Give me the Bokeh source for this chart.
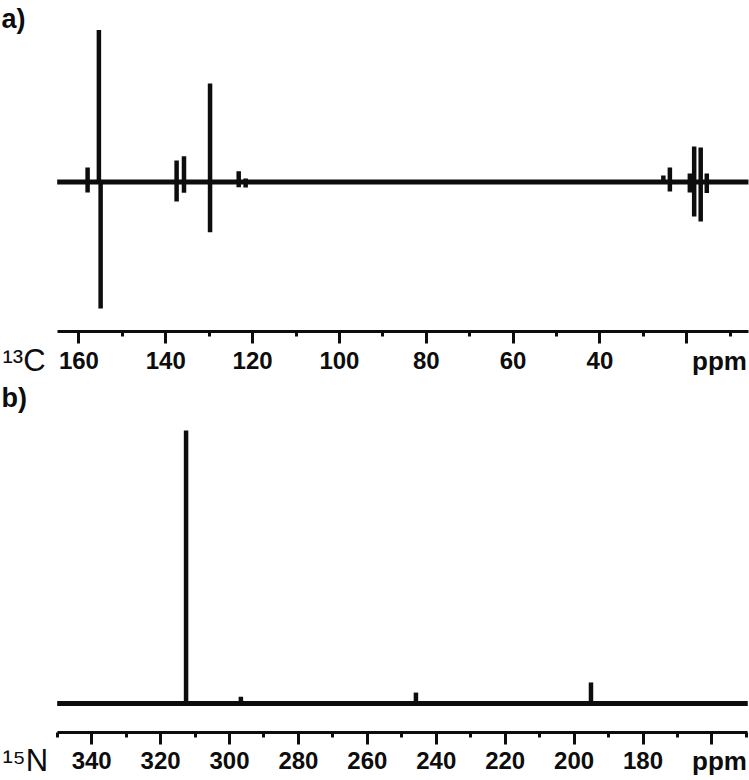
from bokeh.plotting import figure
from bokeh.layouts import column
from bokeh.models import Range1d, SingleIntervalTicker, Label
from bokeh.embed import file_html
from bokeh.resources import INLINE

# ---------------- data ----------------
# a) 13C spectrum (ppm axis reversed)
c_axis_bounds = [165.0, 5.8]
c_peak_ppm = [158.0, 155.4, 137.5, 135.8, 129.8, 123.2, 121.6, 25.4, 23.9, 19.3, 18.3, 16.8, 15.4]
c_peak_up = [9.5, 100.0, 14.1, 17.0, 64.8, 7.1, 2.3, 4.3, 9.5, 5.6, 23.4, 22.7, 5.6]
c_peak_down_ppm = [158.0, 155.0, 137.5, 135.8, 129.8, 123.2, 121.6, 25.4, 23.9, 19.3, 18.3, 16.8, 15.4]
c_peak_down = [-6.9, -83.2, -12.8, -7.1, -33.0, -3.4, -3.6, 0.0, -6.3, -6.9, -22.7, -26.0, -7.2]
c_hidden_tick = 20

# b) 15N spectrum
n_axis_bounds = [350.0, 149.6]
n_peak_ppm = [312.6, 296.7, 245.9, 195.1]
n_peak_up = [100.0, 2.5, 4.0, 7.7]
n_hidden_tick = 160

INK = "#0d0d0d"
FONT = "Liberation Sans"


def make_panel(x_rng, y_rng, height, axis_y, bounds, hidden_tick):
    p = figure(width=749, height=height, title=None,
               x_range=Range1d(*x_rng), y_range=Range1d(*y_rng),
               output_backend="svg", toolbar_location=None,
               y_axis_location=None,
               min_border_left=0, min_border_right=0,
               min_border_top=0, min_border_bottom=0)
    p.grid.visible = False
    p.outline_line_color = None
    p.background_fill_color = "white"
    p.border_fill_color = "white"
    ax = p.xaxis[0]
    ax.fixed_location = axis_y
    ax.bounds = tuple(bounds)
    ax.ticker = SingleIntervalTicker(interval=20, num_minor_ticks=2)
    ax.axis_line_width = 3
    ax.axis_line_color = INK
    ax.major_tick_line_width = 3
    ax.major_tick_line_color = INK
    ax.minor_tick_line_width = 3
    ax.minor_tick_line_color = INK
    ax.major_tick_out = 12
    ax.major_tick_in = 0
    ax.minor_tick_out = 5
    ax.minor_tick_in = 0
    ax.major_label_text_font = FONT
    ax.major_label_text_font_style = "bold"
    ax.major_label_text_font_size = "24px"
    ax.major_label_text_color = INK
    ax.major_label_standoff = 8
    ax.major_label_overrides = {hidden_tick: ""}
    return p


def add_texts(p, nucleus, tag, label_y, tag_y):
    p.add_layout(Label(x=2, y=label_y, x_units="screen", y_units="screen",
                       text=nucleus, text_font=FONT, text_font_size="31px",
                       text_color=INK, text_align="left", text_baseline="alphabetic"))
    p.add_layout(Label(x=719, y=label_y, x_units="screen", y_units="screen",
                       text="ppm", text_font=FONT, text_font_size="26px",
                       text_font_style="bold", text_color=INK,
                       text_align="center", text_baseline="alphabetic"))
    p.add_layout(Label(x=1, y=tag_y, x_units="screen", y_units="screen",
                       text=tag, text_font=FONT, text_font_size="27px",
                       text_font_style="bold", text_color=INK,
                       text_align="left", text_baseline="alphabetic"))


# ---------------- panel a ----------------
pa = make_panel((178.06, 5.56), (-130.59, 119.4), 380, -98.36, c_axis_bounds, c_hidden_tick)
pa.line(x=c_axis_bounds, y=[0, 0], line_width=5, line_color=INK)
pa.segment(x0=c_peak_ppm, y0=[0] * len(c_peak_ppm), x1=c_peak_ppm, y1=c_peak_up,
           line_width=4.5, line_color=INK)
pa.segment(x0=c_peak_down_ppm, y0=[0] * len(c_peak_down_ppm), x1=c_peak_down_ppm, y1=c_peak_down,
           line_width=4.5, line_color=INK)
add_texts(pa, "¹³C", "a)", 20, 362)

# ---------------- panel b ----------------
pb = make_panel((366.45, 149.1), (-28.21, 118.32), 400, -10.51, n_axis_bounds, n_hidden_tick)
pb.line(x=n_axis_bounds, y=[0, 0], line_width=5, line_color=INK)
pb.segment(x0=n_peak_ppm, y0=[0] * len(n_peak_ppm), x1=n_peak_ppm, y1=n_peak_up,
           line_width=4.5, line_color=INK)
add_texts(pb, "¹⁵N", "b)", 20, 383)

layout = column(pa, pb, spacing=0)

open("out.html", "w").write(file_html(layout, INLINE))
